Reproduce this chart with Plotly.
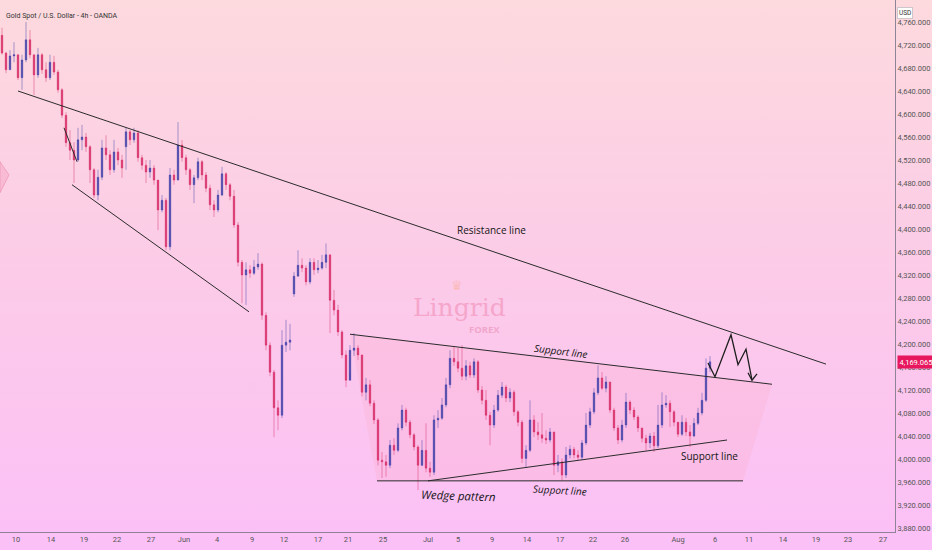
import base64
import plotly.graph_objects as go

# --- price data (4h candles) ---
first_open = 4737
closes = [
    4706, 4677, 4701, 4703, 4663, 4694, 4729, 4703, 4668, 4703,
    4677, 4663, 4690, 4673, 4642, 4598, 4550, 4537, 4520, 4555,
    4560, 4543, 4503, 4459, 4490, 4541, 4529, 4503, 4534, 4520,
    4506, 4569, 4555, 4567, 4524, 4511, 4499, 4506, 4485, 4433,
    4450, 4369, 4494, 4485, 4546, 4524, 4503, 4477, 4489, 4517,
    4494, 4471, 4442, 4433, 4459, 4496, 4477, 4457, 4407, 4342,
    4320, 4329, 4323, 4334, 4339, 4250, 4198, 4151, 4089, 4076,
    4198, 4203, 4207, 4318, 4337, 4332, 4308, 4342, 4329, 4332,
    4342, 4355, 4276, 4259, 4221, 4181, 4137, 4189, 4193, 4181,
    4116, 4129, 4097, 4068, 3998, 3995, 3989, 4024, 4015, 4054,
    4085, 4064, 4042, 4021, 3989, 4015, 3984, 3977, 4068, 4071,
    4094, 4129, 4175, 4169, 4158, 4144, 4162, 4146, 4169, 4120,
    4102, 4076, 4059, 4085, 4111, 4125, 4106, 4116, 4082, 4064,
    4001, 4015, 4068, 4047, 4042, 4036, 4033, 4047, 3989, 3995,
    3972, 4007, 4017, 4007, 4003, 4028, 4059, 4082, 4115, 4141,
    4123, 4134, 4085, 4054, 4033, 4059, 4099, 4085, 4073, 4054,
    4036, 4028, 4040, 4023, 4059, 4094, 4097, 4082, 4064, 4043,
    4064, 4047, 4040, 4062, 4080, 4102, 4158, 4169.065,
]
highs = [
    4750, 4708, 4711, 4725, 4697, 4703, 4760, 4746, 4703, 4715,
    4706, 4690, 4703, 4701, 4677, 4645, 4603, 4572, 4551, 4576,
    4581, 4567, 4546, 4506, 4503, 4555, 4563, 4537, 4555, 4541,
    4529, 4576, 4572, 4576, 4572, 4529, 4520, 4520, 4511, 4468,
    4459, 4454, 4506, 4503, 4586, 4555, 4529, 4506, 4494, 4524,
    4520, 4499, 4477, 4450, 4468, 4508, 4499, 4480, 4468, 4412,
    4346, 4342, 4337, 4346, 4358, 4342, 4255, 4203, 4155, 4102,
    4224, 4242, 4235, 4325, 4363, 4349, 4337, 4349, 4349, 4346,
    4355, 4375, 4355, 4294, 4268, 4224, 4189, 4198, 4219, 4198,
    4181, 4141, 4137, 4102, 4071, 4012, 4007, 4033, 4036, 4062,
    4094, 4089, 4068, 4045, 4024, 4033, 4062, 3995, 4076, 4085,
    4106, 4141, 4189, 4195, 4193, 4198, 4172, 4169, 4175, 4172,
    4127, 4120, 4082, 4094, 4120, 4134, 4129, 4123, 4120, 4085,
    4068, 4024, 4102, 4076, 4064, 4080, 4050, 4054, 4047, 4007,
    4001, 4021, 4024, 4021, 4015, 4033, 4080, 4089, 4123, 4163,
    4151, 4144, 4134, 4089, 4059, 4068, 4115, 4102, 4090, 4076,
    4054, 4042, 4045, 4047, 4094, 4116, 4111, 4102, 4085, 4059,
    4076, 4071, 4059, 4071, 4089, 4115, 4175, 4179,
]
lows = [
    4703, 4671, 4677, 4690, 4659, 4642, 4690, 4697, 4633, 4663,
    4670, 4656, 4659, 4668, 4637, 4593, 4543, 4520, 4480, 4517,
    4537, 4534, 4480, 4454, 4450, 4485, 4520, 4494, 4498, 4511,
    4489, 4503, 4546, 4550, 4517, 4503, 4480, 4489, 4477, 4398,
    4429, 4363, 4363, 4477, 4485, 4517, 4494, 4468, 4445, 4485,
    4485, 4464, 4433, 4421, 4429, 4457, 4468, 4450, 4402, 4335,
    4271, 4268, 4315, 4320, 4329, 4242, 4189, 4144, 4038, 4050,
    4071, 4186, 4189, 4282, 4320, 4325, 4302, 4304, 4320, 4323,
    4329, 4332, 4219, 4250, 4214, 4175, 4125, 4151, 4179, 4172,
    4109, 4102, 4092, 4061, 3989, 3967, 3969, 3984, 4007, 4012,
    4050, 4057, 4036, 4015, 3946, 3988, 3977, 3969, 3972, 4054,
    4068, 4090, 4123, 4162, 4151, 4137, 4137, 4141, 4141, 4115,
    4095, 4068, 4024, 4054, 4082, 4106, 4099, 4099, 4075, 4057,
    3993, 3986, 4012, 4038, 4033, 4028, 4026, 4029, 3972, 3977,
    3963, 3967, 4001, 4001, 3998, 3998, 4024, 4054, 4078, 4111,
    4120, 4116, 4080, 4049, 4026, 4029, 4054, 4078, 4068, 4047,
    4029, 4015, 4019, 4012, 4019, 4054, 4089, 4056, 4057, 4038,
    4040, 4040, 4021, 4038, 4059, 4076, 4099, 4151,
]
# candles that opened with a gap (bar index -> open)
gap_opens = {31: 4543, 73: 4287}

# date labels on the time axis, at bar indices
date_ticks = [3.5, 12.25, 20.5, 28.75, 37.25, 45.5, 53.75, 62.5, 70.5, 79,
              86.5, 95.25, 106.5, 114, 122.5, 131.25, 139.5, 147.75, 155.75,
              169, 178.25, 186.75, 195.25, 203.5, 211.5, 220.25]
date_labels = ['10', '14', '19', '22', '27', 'Jun', '4', '9', '12', '17',
               '21', '25', 'Jul', '5', '9', '14', '17', '22', '26',
               'Aug', '6', '11', '14', '19', '23', '27']
price_ticks = list(range(3880, 4761, 40))
last_price = 4169.065

# drawings (bar index, price)
resistance_line = [(4, 4640), (206, 4165)]
wedge_lower = [(17.5, 4477), (61.75, 4256)]
wedge_stub = [(15.5, 4576), (18.75, 4517)]
channel_top = [(87, 4217), (192.5, 4130)]
channel_base = [(93.75, 3962), (185.25, 3962)]
rising_support = [(106.5, 3962), (181.25, 4033)]
channel_area = [(87, 4217), (192.5, 4130), (185.25, 3962), (93.75, 3962)]
zigzag = [(176.5, 4167), (178.25, 4143), (182.25, 4216), (184, 4164),
          (186, 4191), (187.5, 4137)]
arrow_head = [(186.5, 4150), (187.5, 4137), (188.75, 4148)]
edge_marker = [(-0.5, 4517), (1.75, 4494), (-0.5, 4463)]

labels = [
    ('Resistance line', 122.25, 4398, 0, 'normal', 10),
    ('Support line', 139.75, 4188, 7, 'italic', 10),
    ('Support line', 176.75, 4005, 0, 'normal', 10),
    ('Support line', 139.5, 3946, 3, 'italic', 10),
    ('Wedge pattern', 114.1, 3936, 2, 'italic', 11.5),
]

opens = [first_open] + closes[:-1]
for idx, val in gap_opens.items():
    opens[idx] = val
bars = list(range(len(closes)))


def path_of(points, close=False):
    d = 'M ' + ' L '.join(f'{x},{y}' for x, y in points)
    return d + (' Z' if close else '')


def segment(points, color='#2b2b2b', width=1):
    (x0, y0), (x1, y1) = points
    return dict(type='line', xref='x', yref='y', x0=x0, y0=y0, x1=x1, y1=y1,
                line=dict(color=color, width=width))


fig = go.Figure()

fig.add_trace(go.Candlestick(
    x=bars, open=opens, high=highs, low=lows, close=closes,
    increasing=dict(fillcolor='#3a3aa6',
                    line=dict(color='rgba(70,70,170,0.6)', width=0.8)),
    decreasing=dict(fillcolor='#d8245e',
                    line=dict(color='rgba(214,50,110,0.6)', width=0.8)),
    whiskerwidth=0,
    hoverinfo='skip',
    showlegend=False,
))

shapes = [
    dict(type='path', xref='x', yref='y', path=path_of(channel_area, True),
         fillcolor='rgba(252,175,205,0.30)', line=dict(width=0), layer='below'),
    dict(type='path', xref='x', yref='y', path=path_of(edge_marker, True),
         fillcolor='rgba(246,160,190,0.45)',
         line=dict(color='rgba(235,140,170,0.6)', width=1)),
    segment(resistance_line),
    segment(wedge_lower),
    segment(wedge_stub),
    segment(channel_top),
    segment(channel_base),
    segment(rising_support),
    dict(type='path', xref='x', yref='y', path=path_of(zigzag),
         line=dict(color='#1e1e1e', width=1.3)),
    dict(type='path', xref='x', yref='y', path=path_of(arrow_head),
         line=dict(color='#1e1e1e', width=1.3)),
]

annotations = []
for text, bx, py, angle, style, size in labels:
    annotations.append(dict(
        x=bx, y=py, xref='x', yref='y', text=text, showarrow=False,
        textangle=angle,
        font=dict(family='Open Sans', size=size, color='#141414', style=style)))

# Lingrid watermark
annotations += [
    dict(x=113.75, y=4302, xref='x', yref='y', text='♛', showarrow=False,
         font=dict(family='DejaVu Sans', size=13, color='rgba(250,170,140,0.5)')),
    dict(x=114.25, y=4263, xref='x', yref='y', text='Lingrid', showarrow=False,
         font=dict(family='DejaVu Serif', size=25, color='rgba(238,130,170,0.5)')),
    dict(x=120.5, y=4226, xref='x', yref='y', text='<b>FOREX</b>', showarrow=False,
         font=dict(family='Open Sans', size=9.5, color='rgba(228,130,170,0.5)')),
]

# header, currency box and last price tag
annotations += [
    dict(x=0.004, y=0.981, xref='paper', yref='paper', xanchor='left',
         text='Gold Spot / U.S. Dollar - 4h - OANDA', showarrow=False,
         font=dict(family='Roboto', size=7, color='#333333')),
    dict(x=1.0201, y=0.987, xref='paper', yref='paper', text='USD',
         showarrow=False, bgcolor='#ffffff', bordercolor='#cfc6cc',
         borderwidth=1, borderpad=1,
         font=dict(family='Roboto', size=6.5, color='#333333')),
    dict(x=1.0, y=last_price, xref='paper', yref='y', xanchor='left', xshift=2,
         text=f'{last_price:,.3f}', showarrow=False, bgcolor='#e8175d',
         borderpad=1.5, font=dict(family='Roboto', size=7.5, color='#ffffff')),
]

svg = ("<svg xmlns='http://www.w3.org/2000/svg' width='932' height='550'>"
       "<defs><linearGradient id='g' x1='0' y1='0' x2='0' y2='1'>"
       "<stop offset='0' stop-color='#fddade'/>"
       "<stop offset='0.5' stop-color='#fccbe8'/>"
       "<stop offset='1' stop-color='#fbc0f7'/>"
       "</linearGradient></defs>"
       "<rect width='932' height='550' fill='url(#g)'/></svg>")
bg_src = 'data:image/svg+xml;base64,' + base64.b64encode(svg.encode()).decode('ascii')

fig.update_layout(
    width=932, height=550,
    margin=dict(l=0, r=37, t=0, b=18),
    paper_bgcolor='#fccbe8',
    plot_bgcolor='rgba(0,0,0,0)',
    showlegend=False,
    boxgap=0.45,
    shapes=shapes,
    annotations=annotations,
    images=[dict(source=bg_src, xref='paper', yref='paper', x=0, y=1,
                 sizex=932 / 895, sizey=550 / 532, xanchor='left',
                 yanchor='top', sizing='stretch', layer='below')],
    xaxis=dict(
        range=[-0.5, 223.25], rangeslider=dict(visible=False),
        tickmode='array', tickvals=date_ticks, ticktext=date_labels,
        showgrid=False, zeroline=False, ticks='',
        showline=True, linecolor='#8f8398', linewidth=1,
        tickfont=dict(family='Roboto', size=7.5, color='#555555'),
    ),
    yaxis=dict(
        range=[3873.04, 4798.26], side='right',
        tickmode='array', tickvals=price_ticks, tickformat=',.3f',
        showgrid=False, zeroline=False, ticks='',
        showline=True, linecolor='#8f8398', linewidth=1,
        tickfont=dict(family='Roboto', size=7.5, color='#555555'),
    ),
)

# the page body has a default 8px margin; drop it so the chart fills the window
fig.write_html("out.html", config={'displayModeBar': False},
               post_script="document.body.style.margin = '0';")
